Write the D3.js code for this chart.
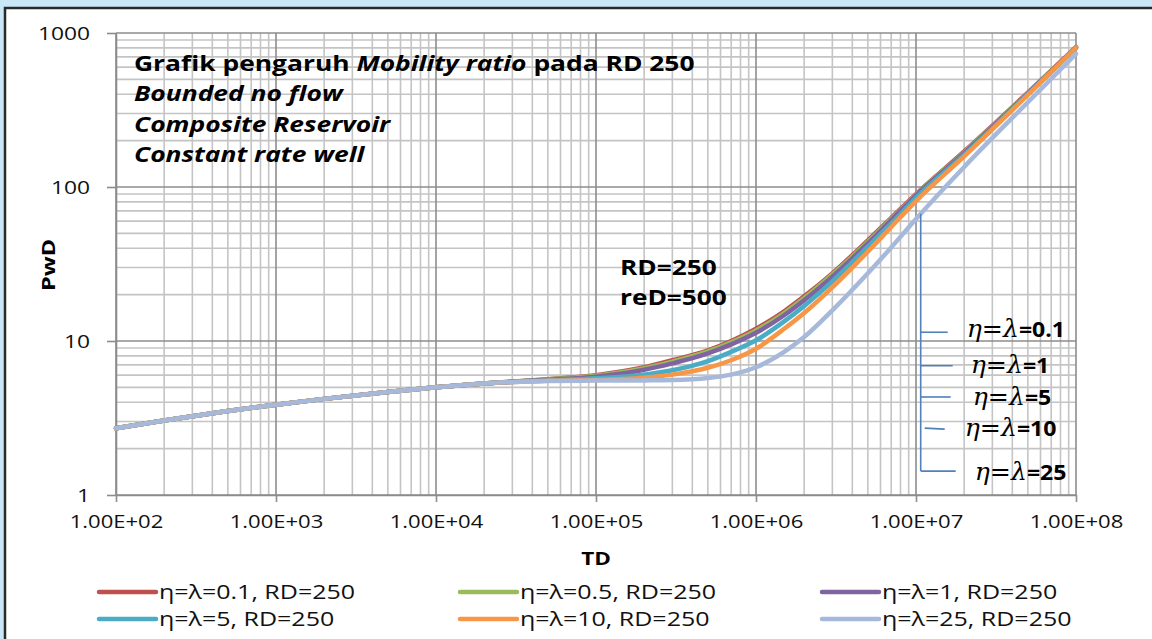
<!DOCTYPE html>
<html>
<head>
<meta charset="utf-8">
<script src="https://cdn.jsdelivr.net/npm/d3@7"></script>
<style>
  html, body { margin: 0; padding: 0; background: #c9e7f7; }
  svg { display: block; }
</style>
</head>
<body>
<svg id="chart"></svg>
<script>
// dimensionless time samples
const td = [1e2, 2e2, 5e2, 1e3, 2e3, 5e3, 1e4, 2e4, 5e4, 1e5, 2e5, 3e5, 5e5, 7e5,
  1e6, 1.5e6, 2e6, 3e6, 5e6, 7e6, 1e7, 2e7, 5e7, 1e8];

// PwD, one list per mobility ratio
const pwd01 = [2.71, 3.05, 3.51, 3.86, 4.21, 4.66, 5.0, 5.3, 5.65, 6.0, 6.75, 7.5, 8.7, 10.0,
  12.0, 15.6, 19.5, 27.5, 45, 63, 90, 170, 410, 810];
const pwd05 = [2.71, 3.05, 3.51, 3.86, 4.21, 4.66, 5.0, 5.3, 5.63, 5.95, 6.65, 7.35, 8.55, 9.8,
  11.7, 15.2, 19.0, 27.0, 44, 62, 89, 168, 407, 806];
const pwd1 = [2.71, 3.05, 3.51, 3.86, 4.21, 4.66, 5.0, 5.3, 5.6, 5.87, 6.5, 7.15, 8.3, 9.5,
  11.3, 14.7, 18.4, 26.2, 43, 61, 88, 166, 404, 803];
const pwd5 = [2.71, 3.05, 3.51, 3.86, 4.21, 4.66, 5.0, 5.3, 5.55, 5.72, 6.05, 6.45, 7.4, 8.5,
  10.1, 13.4, 16.9, 24.4, 41, 58, 85, 162, 400, 800];
const pwd10 = [2.71, 3.05, 3.51, 3.86, 4.21, 4.66, 5.0, 5.3, 5.52, 5.58, 5.78, 6.05, 6.7, 7.5,
  8.9, 12.0, 15.2, 22.3, 38, 55, 81, 158, 396, 800];
const pwd25 = [2.71, 3.05, 3.51, 3.86, 4.21, 4.66, 5.0, 5.3, 5.5, 5.53, 5.55, 5.58, 5.75, 6.05,
  6.75, 8.5, 10.6, 15.8, 27.5, 40.5, 62, 135, 355, 731];

const seriesNames = ["η=λ=0.1, RD=250", "η=λ=0.5, RD=250", "η=λ=1, RD=250",
  "η=λ=5, RD=250", "η=λ=10, RD=250", "η=λ=25, RD=250"];
const seriesColors = ["#c0504d", "#9bbb59", "#8064a2", "#4bacc6", "#f79646", "#a7b9da"];

const xTicks = [1e2, 1e3, 1e4, 1e5, 1e6, 1e7, 1e8];
const yTicks = [1, 10, 100, 1000];

// bracket annotation on the right: label value and PwD level of each tick
const annoLabels = ["0.1", "1", "5", "10", "25"];
const annoLevels = [11.4, 6.9, 4.33, 2.72, 1.43];
const annoTD = 1.07e7;
const annoTop = 67;

const width = 1152, height = 639;
const font = "'Open Sans', sans-serif";
const svg = d3.select("#chart").attr("width", width).attr("height", height);

svg.append("rect").attr("width", width).attr("height", height).attr("fill", "#c9e7f7");
svg.append("rect")
  .attr("x", 5).attr("y", 8).attr("width", width + 10).attr("height", height + 10)
  .attr("fill", "#ffffff").attr("stroke", "#2a2a2a").attr("stroke-width", 2.5);

const x = d3.scaleLog().domain([1e2, 1e8]).range([116, 1076]);
const y = d3.scaleLog().domain([1, 1000]).range([495, 33]);

// text placed at (px, py) and stretched sideways, like the reference's wide font
function wideText(px, py, sx, size, bold) {
  return svg.append("text")
    .attr("transform", `translate(${px},${py}) scale(${sx},1)`)
    .style("font-family", font)
    .style("font-size", size + "px")
    .style("font-weight", bold ? "bold" : "normal");
}

// grid
const minorX = [], minorY = [];
for (let e = 2; e < 8; e++) for (let k = 2; k < 10; k++) minorX.push(k * Math.pow(10, e));
for (let e = 0; e < 3; e++) for (let k = 2; k < 10; k++) minorY.push(k * Math.pow(10, e));

const grid = svg.append("g");
grid.selectAll(".mx").data(minorX).enter().append("line")
  .attr("x1", d => x(d)).attr("x2", d => x(d))
  .attr("y1", y(1)).attr("y2", y(1000))
  .attr("stroke", "#c4c4c4").attr("stroke-width", 1.6);
grid.selectAll(".my").data(minorY).enter().append("line")
  .attr("x1", x(1e2)).attr("x2", x(1e8))
  .attr("y1", d => y(d)).attr("y2", d => y(d))
  .attr("stroke", "#c4c4c4").attr("stroke-width", 1.6);
grid.selectAll(".Mx").data(xTicks).enter().append("line")
  .attr("x1", d => x(d)).attr("x2", d => x(d))
  .attr("y1", y(1)).attr("y2", y(1000))
  .attr("stroke", "#8c8c8c").attr("stroke-width", 1.6);
grid.selectAll(".My").data(yTicks).enter().append("line")
  .attr("x1", x(1e2)).attr("x2", x(1e8))
  .attr("y1", d => y(d)).attr("y2", d => y(d))
  .attr("stroke", "#8c8c8c").attr("stroke-width", 1.6);

// axes
const fmtE = d => {
  const e = Math.round(Math.log10(d));
  return "1.00E+" + String(e).padStart(2, "0");
};
const sxTick = 1.16;
const xAxis = svg.append("g")
  .attr("transform", `translate(0,${y(1)})`)
  .call(d3.axisBottom(x).tickValues(xTicks).tickFormat(fmtE).tickSize(7).tickPadding(13).tickSizeOuter(0));
const yAxis = svg.append("g")
  .attr("transform", `translate(${x(1e2)},0)`)
  .call(d3.axisLeft(y).tickValues(yTicks).tickFormat(d3.format("d")).tickSize(9).tickPadding(17).tickSizeOuter(0));
[xAxis, yAxis].forEach(a => {
  a.select(".domain").attr("stroke", "#8c8c8c").attr("stroke-width", 1.6);
  a.selectAll(".tick line").attr("stroke", "#8c8c8c").attr("stroke-width", 1.6);
  a.selectAll(".tick text")
    .attr("fill", "#111")
    .style("font-family", font)
    .style("font-size", "19px");
});
xAxis.selectAll(".tick text").attr("transform", `scale(${sxTick},1)`);
yAxis.selectAll(".tick text")
  .attr("dy", "0.36em")
  .attr("x", -26 / 1.2)
  .attr("transform", "scale(1.2,1)");

// axis titles
wideText(x(1e5), 565, 1.25, 18, true).attr("text-anchor", "middle").text("TD");
svg.append("text")
  .attr("transform", "translate(55,265) rotate(-90) scale(1.3,1)")
  .attr("text-anchor", "middle")
  .style("font-family", font)
  .style("font-weight", "bold").style("font-size", "18px")
  .text("PwD");

// curves
const allSeries = [pwd01, pwd05, pwd1, pwd5, pwd10, pwd25];
const line = d3.line()
  .x(d => x(d[0]))
  .y(d => y(d[1]))
  .curve(d3.curveMonotoneX);
svg.append("g").selectAll("path")
  .data(allSeries)
  .enter().append("path")
  .attr("d", s => line(td.map((t, i) => [t, s[i]])))
  .attr("fill", "none")
  .attr("stroke", (s, i) => seriesColors[i])
  .attr("stroke-width", 4.5)
  .attr("stroke-linecap", "round")
  .attr("stroke-linejoin", "round");

// title block
const t1 = wideText(134, 71, 1.2, 22, true);
t1.append("tspan").text("Grafik pengaruh ");
t1.append("tspan").style("font-style", "italic").text("Mobility ratio");
t1.append("tspan").text(" pada RD 250");
["Bounded no flow", "Composite Reservoir", "Constant rate well"].forEach((s, i) => {
  wideText(134, 101 + i * 30.5, 1.2, 22, true)
    .style("font-style", "italic")
    .text(s);
});

wideText(620, 275, 1.25, 21, true).text("RD=250");
wideText(620, 305, 1.25, 21, true).text("reD=500");

// right-hand bracket annotation
const annoColor = "#4f81bd";
const ax = x(annoTD);
svg.append("line")
  .attr("x1", ax).attr("x2", ax)
  .attr("y1", y(annoTop)).attr("y2", y(annoLevels[annoLevels.length - 1]))
  .attr("stroke", annoColor).attr("stroke-width", 1.6);
const tickLen = [27, 32, 30, 24, 35];
const labelDx = [46, 50, 52, 44, 54];
const labelDy = [5, 7, 8, 8, 9];
annoLevels.forEach((v, i) => {
  const yy = y(v);
  svg.append("line")
    .attr("x1", i === 3 ? ax + 4 : ax).attr("x2", ax + tickLen[i])
    .attr("y1", yy).attr("y2", i === 3 ? yy + 1 : yy)
    .attr("stroke", annoColor).attr("stroke-width", 1.6);
  const t = svg.append("text")
    .attr("transform", `translate(${ax + labelDx[i]},${yy + labelDy[i]}) scale(1.05,1)`)
    .style("font-size", "24px");
  t.append("tspan").style("font-family", "'DejaVu Serif', serif").style("font-style", "italic").text("η");
  t.append("tspan").style("font-family", "'DejaVu Serif', serif").text("=");
  t.append("tspan").style("font-family", "'DejaVu Serif', serif").style("font-style", "italic").text("λ");
  t.append("tspan").style("font-family", font).style("font-weight", "bold")
    .style("font-size", "22px").text("=" + annoLabels[i]);
});

// legend
const legX = [99, 460, 822];
const legY = [592, 619];
seriesNames.forEach((name, i) => {
  const cx = legX[i % 3], cy = legY[Math.floor(i / 3)];
  svg.append("line")
    .attr("x1", cx).attr("x2", cx + 57).attr("y1", cy).attr("y2", cy)
    .attr("stroke", seriesColors[i]).attr("stroke-width", 4.5).attr("stroke-linecap", "round");
  wideText(cx + 60, cy, 1.25, 20, false)
    .attr("dy", "0.35em").attr("fill", "#111")
    .text(name);
});
</script>
</body>
</html>
